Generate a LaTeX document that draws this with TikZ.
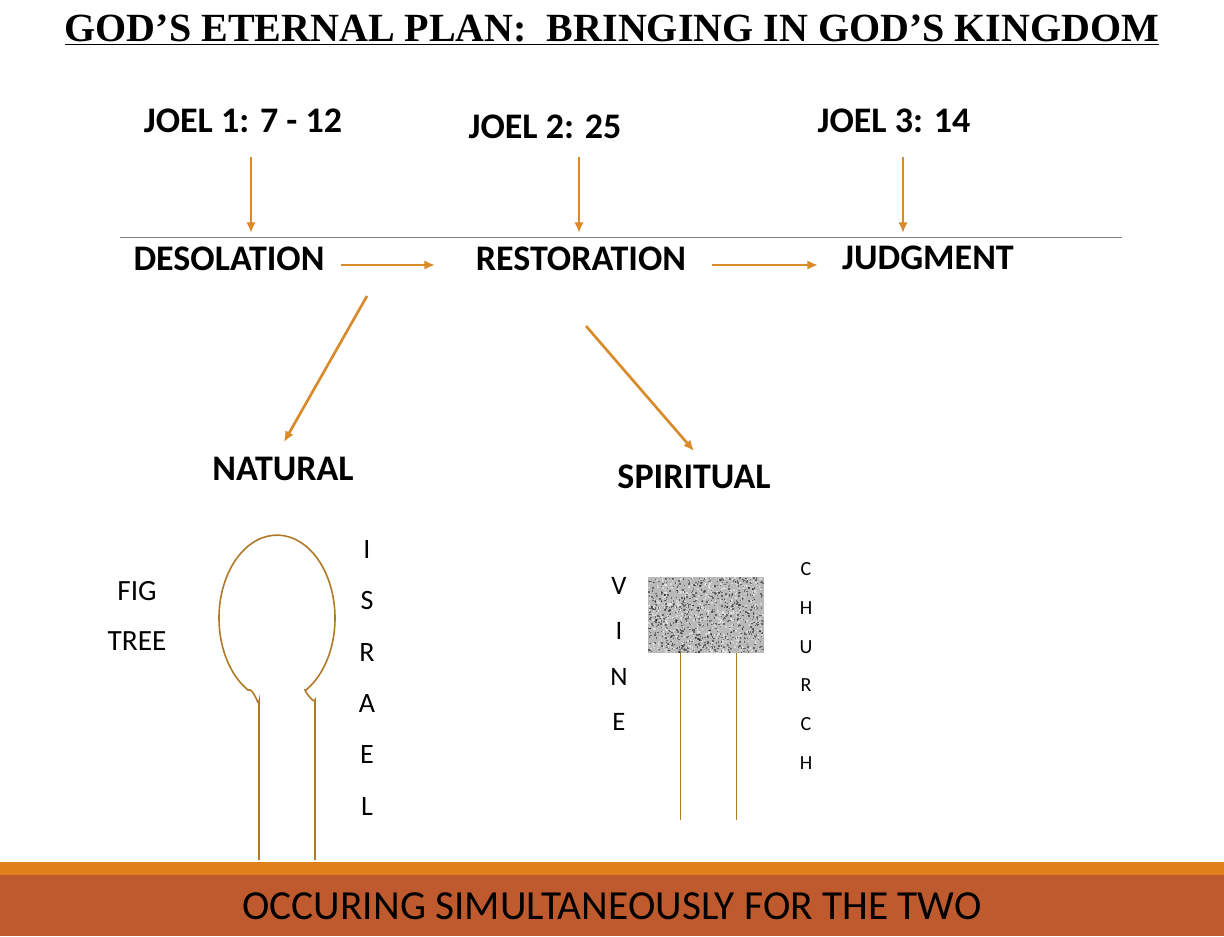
\documentclass[tikz,border=0pt]{standalone}
\usepackage{fontspec}
\setmainfont{Carlito}
\newfontfamily\titlefont{Liberation Serif}
\usetikzlibrary{arrows.meta}
\definecolor{arr}{HTML}{D98A2B}
\definecolor{tree}{HTML}{B07A2A}
\definecolor{barA}{HTML}{E0801A}
\definecolor{barB}{HTML}{BE5A2E}
\begin{document}
\begin{tikzpicture}[x=0.75pt,y=-0.75pt,
  lbl/.style={font=\bfseries\fontsize{27}{29}\selectfont,inner sep=0pt},
  arrw/.style={draw=arr,line width=2pt,-{Latex[length=8pt,width=7pt]}},
  let/.style={align=center,inner sep=0pt}]
\useasboundingbox (0,0) rectangle (1224,936);
\fill[white] (0,0) rectangle (1224,936);
\node[font=\titlefont\bfseries\fontsize{30}{32}\selectfont,inner sep=0pt] (title) at (612,30) {\underline{GOD’S ETERNAL PLAN:\ \ BRINGING IN GOD’S KINGDOM}};
\node[lbl] (j1) at (243,121) {JOEL 1: 7 - 12};
\node[lbl] (j2) at (545,127) {JOEL 2: 25};
\node[lbl] (j3) at (894,121) {JOEL 3: 14};
\draw[gray,line width=0.5pt] (120,237) -- (1122,237);
\node[lbl] (des) at (229,259) {DESOLATION};
\node[lbl] (res) at (581,259) {RESTORATION};
\node[lbl] (jud) at (928,258) {JUDGMENT};
\node[lbl] (nat) at (283,469) {NATURAL};
\node[lbl] (spi) at (694,477) {SPIRITUAL};
\coordinate (a1) at (251,157); \coordinate (b1) at (251,233);
\coordinate (a2) at (579,157); \coordinate (b2) at (579,233);
\coordinate (a3) at (903,157); \coordinate (b3) at (903,233);
\draw[arrw] (a1) -- (b1);
\draw[arrw] (a2) -- (b2);
\draw[arrw] (a3) -- (b3);
\coordinate (h1) at (341,265); \coordinate (h2) at (435,265);
\coordinate (h3) at (712,265); \coordinate (h4) at (818,265);
\draw[arrw] (h1) -- (h2);
\draw[arrw] (h3) -- (h4);
\coordinate (d1) at (367,296); \coordinate (d2) at (284,442);
\coordinate (d3) at (586,326); \coordinate (d4) at (694,451);
\draw[arrw] (d1) -- (d2);
\draw[arrw] (d3) -- (d4);
% fig tree
\draw[tree,line width=1.2pt] (259,860) -- (259,702) to[out=-90,in=30] (248,690) arc[start angle=120,end angle=420,x radius=58,y radius=83] to[out=150,in=-90] (315,700) -- (315,860);
\node[let,font=\fontsize{22}{38}\selectfont] (fig) at (137,616) {FIG\\TREE};
\node[let,font=\fontsize{21}{38.5}\selectfont] (isr) at (367,678) {I\\S\\R\\A\\E\\L};
% vine
\fill[gray!55] (648,577) rectangle (764,653);
\pgfmathsetseed{7}
\foreach \i in {1,...,1400}{
  \pgfmathsetmacro{\px}{648+114.5*rnd}
  \pgfmathsetmacro{\py}{577+75*rnd}
  \pgfmathsetmacro{\c}{rnd>0.5?100:0}
  \fill[white!\c!black,opacity=0.45] (\px,\py) rectangle ++(1.5,1.5);
}
\draw[tree,line width=0.7pt] (680,653) -- (680,820);
\draw[tree,line width=0.7pt] (736,653) -- (736,820);
\node[let,font=\fontsize{20}{34}\selectfont] (vine) at (619,654) {V\\I\\N\\E};
\node[let,font=\fontsize{15}{29}\selectfont] (church) at (806,666) {C\\H\\U\\R\\C\\H};
% bottom bar
\fill[barA] (0,862) rectangle (1224,875);
\fill[barB] (0,875) rectangle (1224,936);
\node[font=\fontsize{31}{33}\selectfont,inner sep=0pt] (foot) at (612,906) {OCCURING SIMULTANEOUSLY FOR THE TWO};
\end{tikzpicture}
\end{document}
